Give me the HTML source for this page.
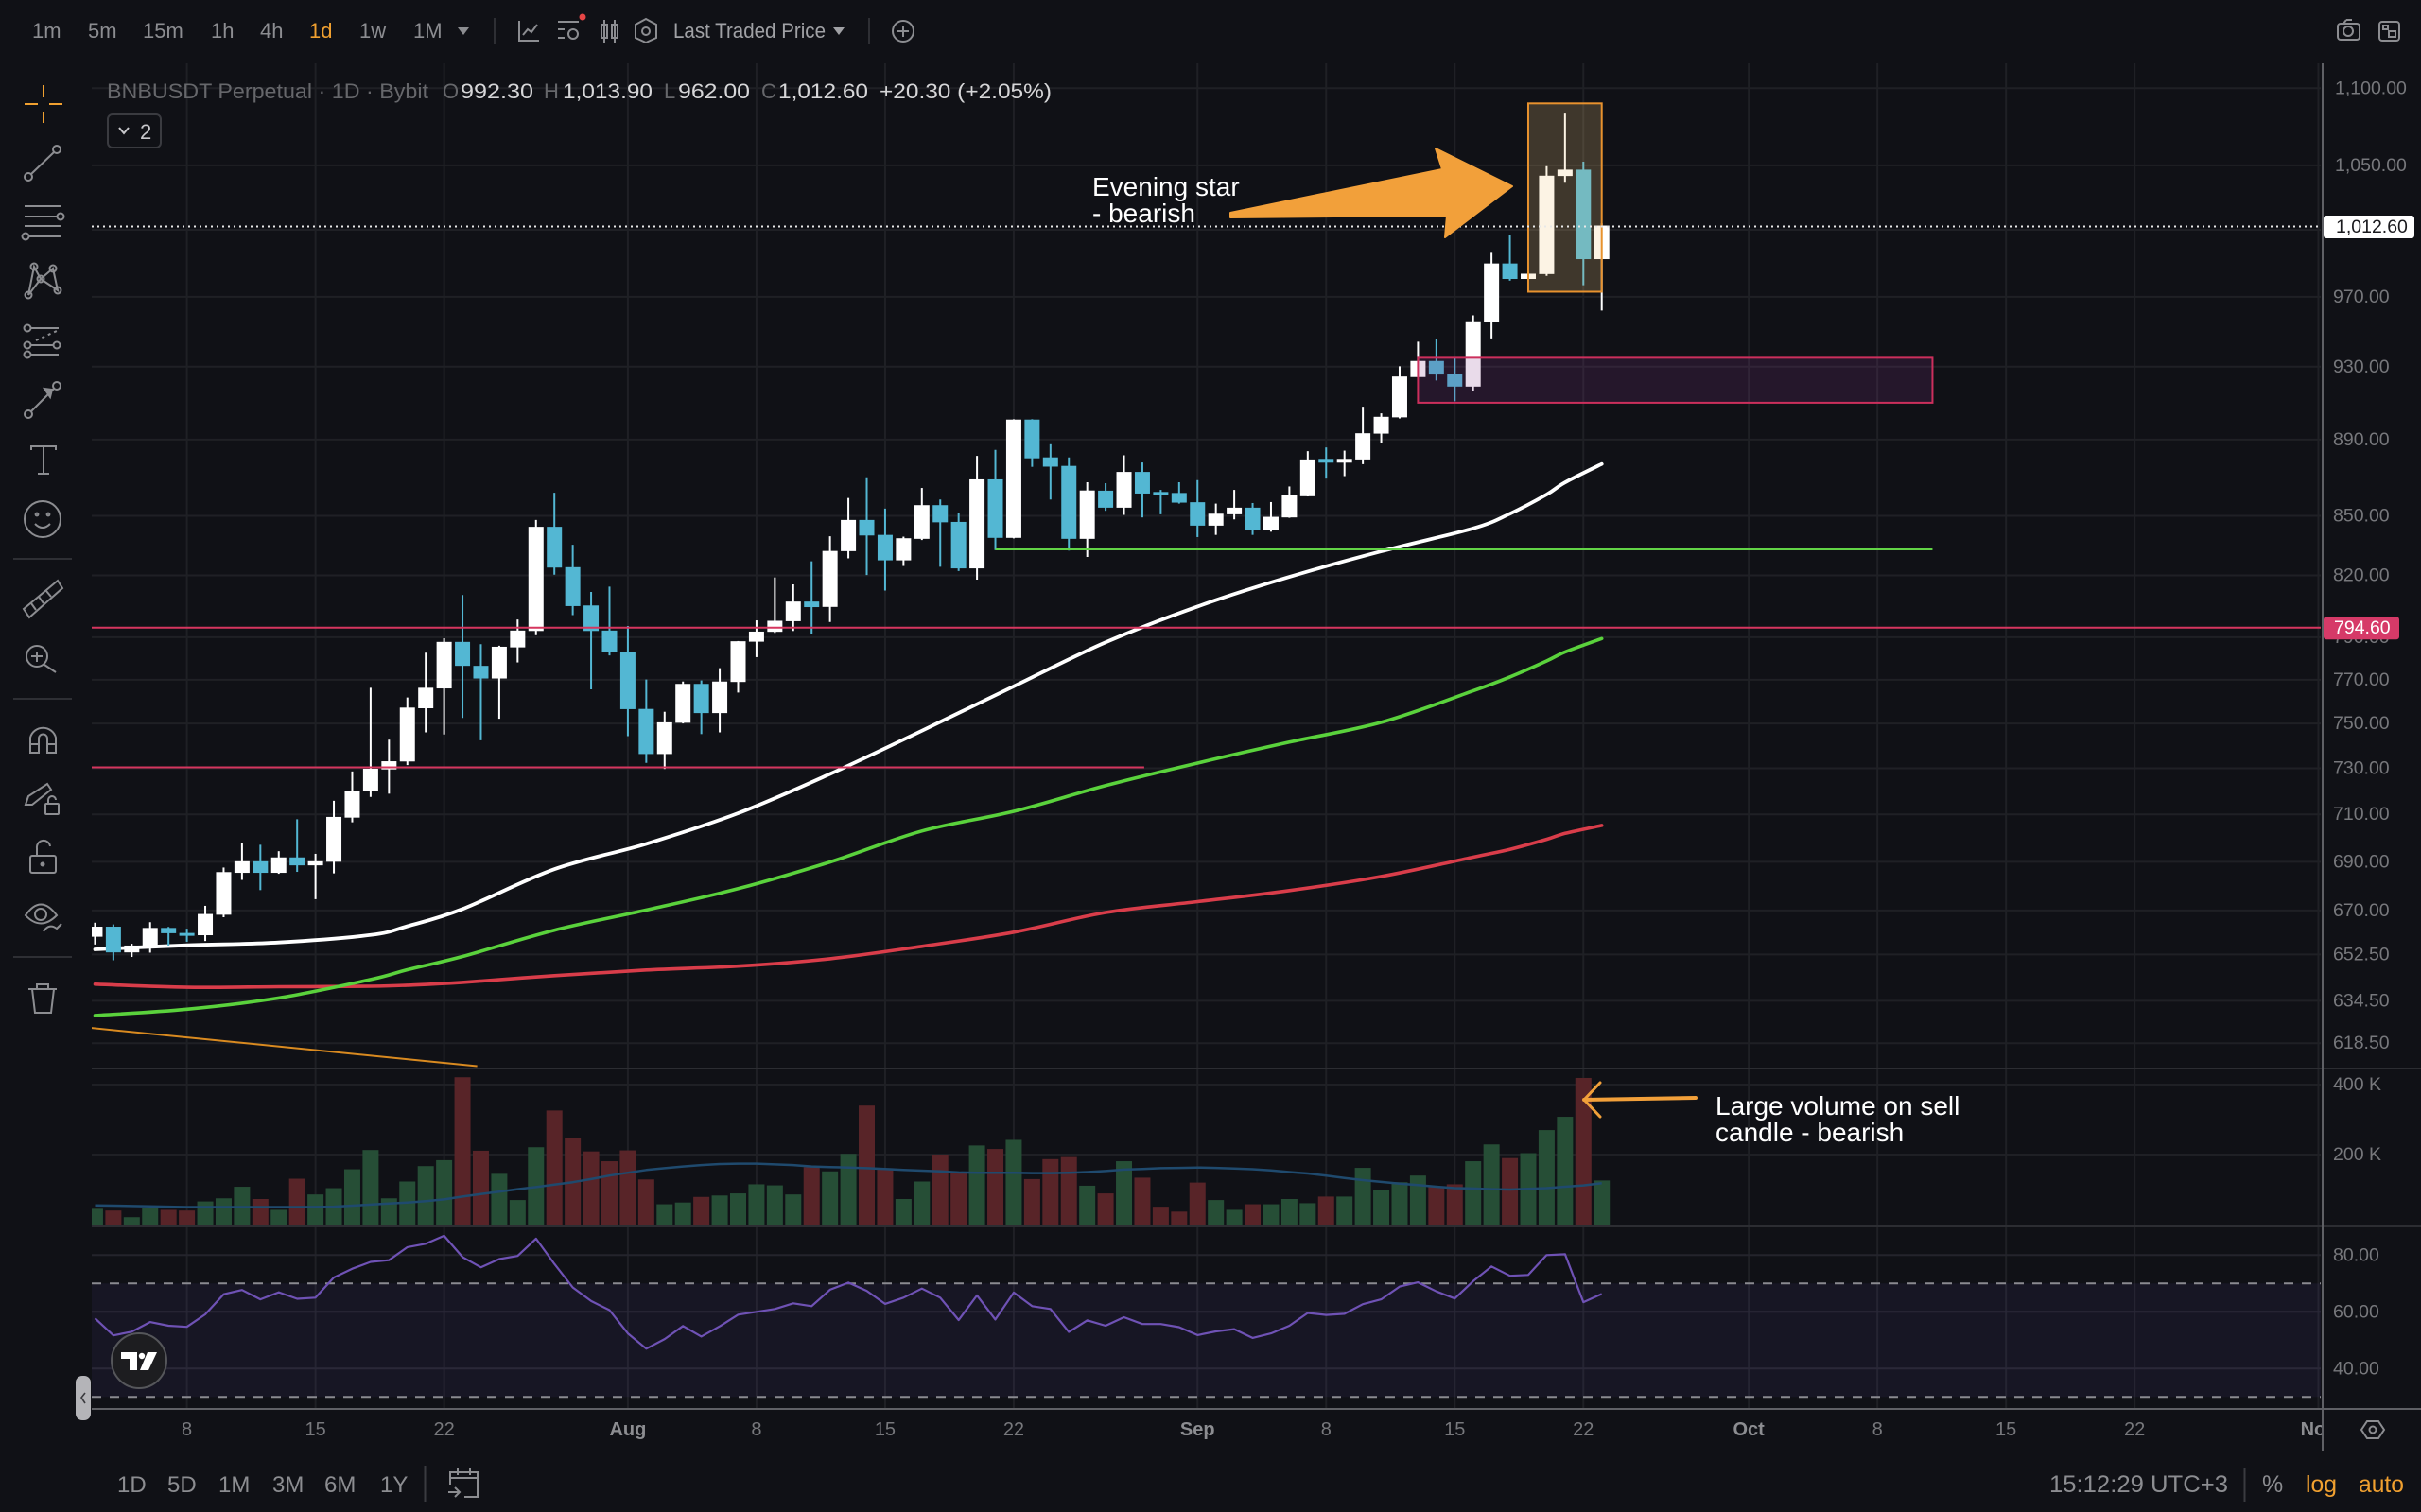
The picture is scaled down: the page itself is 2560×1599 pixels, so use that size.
<!DOCTYPE html>
<html lang="en">
<head>
<meta charset="utf-8">
<title>BNBUSDT Perpetual 1D chart</title>
<style>
html,body{margin:0;padding:0;background:#101116;width:2560px;height:1599px;overflow:hidden}
svg{display:block}
text{font-family:"Liberation Sans",sans-serif}
.tb{font-size:22px;fill:#8c8d91}
.ic{fill:none;stroke:#8c8d91;stroke-width:2}
.ax{font-size:19.5px;fill:#77787c}
.hdl{font-size:22px;fill:#66676b}
.hdv{font-size:22px;fill:#d6d6d8}
.note{font-size:28px;fill:#ffffff}
</style>
</head>
<body>
<svg id="root" xmlns="http://www.w3.org/2000/svg" width="2560" height="1599" viewBox="0 0 2560 1599">
  <defs>
    <clipPath id="clipMain"><rect x="97" y="66" width="2357" height="1063"/></clipPath>
    <clipPath id="clipVol"><rect x="97" y="1131" width="2357" height="165"/></clipPath>
    <clipPath id="clipRsi"><rect x="97" y="1298" width="2357" height="191"/></clipPath>
    <clipPath id="clipTime"><rect x="97" y="1492" width="2359" height="44"/></clipPath>
  </defs>
  <rect x="0" y="0" width="2560" height="1599" fill="#101116"/>

  <g id="gridLayer"></g>
  <g id="rsiLayer" clip-path="url(#clipRsi)"></g>
  <g id="volLayer" clip-path="url(#clipVol)"></g>
  <g id="mainLayer" clip-path="url(#clipMain)"></g>
  <g id="axisLayer"></g>
  <g id="timeLayer" clip-path="url(#clipTime)"></g>

  <!-- pane separators and axis line -->
  <line x1="97" y1="1130" x2="2560" y2="1130" stroke="#2c2d32" stroke-width="2"/>
  <line x1="97" y1="1297" x2="2560" y2="1297" stroke="#2c2d32" stroke-width="2"/>
  <line x1="97" y1="1490" x2="2560" y2="1490" stroke="#5f6065" stroke-width="2"/>
  <line x1="2456" y1="67" x2="2456" y2="1534" stroke="#5f6065" stroke-width="2"/>

  <!-- annotations -->
  <text class="note" x="1155" y="207">Evening star</text>
  <text class="note" x="1155" y="235">- bearish</text>
  <polygon points="1301,225 1525,179 1518,157 1599,197 1528,251 1530,228 1301,230" fill="#f2a03a" stroke="#f2a03a" stroke-width="2" stroke-linejoin="round"/>
  <text class="note" x="1814" y="1179">Large volume on sell</text>
  <text class="note" x="1814" y="1207">candle - bearish</text>
  <g fill="none" stroke="#f2a03a" stroke-linecap="round" stroke-linejoin="round">
    <line x1="1675" y1="1163" x2="1793" y2="1161" stroke-width="4"/>
    <polyline points="1692,1145 1675,1163 1692,1181" stroke-width="3"/>
  </g>

  <!-- top toolbar -->
  <g>
    <text class="tb" x="34" y="40">1m</text>
    <text class="tb" x="93" y="40">5m</text>
    <text class="tb" x="151" y="40">15m</text>
    <text class="tb" x="223" y="40">1h</text>
    <text class="tb" x="275" y="40">4h</text>
    <text class="tb" x="327" y="40" style="fill:#f0a030">1d</text>
    <text class="tb" x="380" y="40">1w</text>
    <text class="tb" x="437" y="40">1M</text>
    <polygon points="484,29 496,29 490,37" fill="#8c8d91"/>
    <line x1="523" y1="19" x2="523" y2="47" stroke="#2e2f34" stroke-width="2"/>
    <g class="ic">
      <polyline points="549,22 549,43 570,43"/><polyline points="553,37 558,31 562,34 568,26"/>
    </g>
    <g class="ic">
      <line x1="590" y1="23" x2="612" y2="23"/><line x1="590" y1="31" x2="597" y2="31"/><line x1="590" y1="40" x2="597" y2="40"/><circle cx="606" cy="36" r="5"/>
    </g>
    <circle cx="616" cy="18" r="3.5" fill="#e64545"/>
    <g class="ic">
      <rect x="636" y="26" width="6" height="14"/><rect x="647" y="26" width="6" height="14"/>
      <line x1="639" y1="21" x2="639" y2="45"/><line x1="650" y1="21" x2="650" y2="45"/>
    </g>
    <g class="ic">
      <polygon points="683,20 694,26 694,40 683,45 672,40 672,26"/><circle cx="683" cy="33" r="4"/>
    </g>
    <text class="tb" x="712" y="40" textLength="161" lengthAdjust="spacingAndGlyphs" style="fill:#a0a1a5">Last Traded Price</text>
    <polygon points="881,29 893,29 887,37" fill="#a0a1a5"/>
    <line x1="919" y1="19" x2="919" y2="47" stroke="#2e2f34" stroke-width="2"/>
    <g class="ic">
      <circle cx="955" cy="33" r="11"/><line x1="949" y1="33" x2="961" y2="33"/><line x1="955" y1="27" x2="955" y2="39"/>
    </g>
    <g class="ic">
      <rect x="2472" y="25" width="23" height="17" rx="3"/><circle cx="2483" cy="33" r="5"/><line x1="2478" y1="25" x2="2481" y2="21"/><line x1="2481" y1="21" x2="2487" y2="21"/>
    </g>
    <g class="ic">
      <rect x="2516" y="23" width="21" height="20" rx="3"/><rect x="2526" y="33" width="7" height="6"/><rect x="2520" y="27" width="5" height="4"/>
    </g>
  </g>

  <!-- legend -->
  <g>
    <text class="hdl" x="113" y="104" textLength="340" lengthAdjust="spacingAndGlyphs">BNBUSDT Perpetual · 1D · Bybit</text>
    <text class="hdl" x="468" y="104">O</text>
    <text class="hdv" x="487" y="104" textLength="77" lengthAdjust="spacingAndGlyphs">992.30</text>
    <text class="hdl" x="575" y="104">H</text>
    <text class="hdv" x="595" y="104" textLength="95" lengthAdjust="spacingAndGlyphs">1,013.90</text>
    <text class="hdl" x="702" y="104">L</text>
    <text class="hdv" x="717" y="104" textLength="76" lengthAdjust="spacingAndGlyphs">962.00</text>
    <text class="hdl" x="805" y="104">C</text>
    <text class="hdv" x="823" y="104" textLength="95" lengthAdjust="spacingAndGlyphs">1,012.60</text>
    <text class="hdv" x="930" y="104" textLength="182" lengthAdjust="spacingAndGlyphs">+20.30 (+2.05%)</text>
    <rect x="114" y="121" width="56" height="35" rx="5" fill="#101116" stroke="#3a3b40" stroke-width="2"/>
    <polyline points="126,135 131,141 136,135" fill="none" stroke="#c8c8cc" stroke-width="2"/>
    <text x="148" y="147" font-size="22" fill="#c8c8cc">2</text>
  </g>

  <!-- left toolbar -->
  <g>
    <g fill="none" stroke="#f0a030" stroke-width="2">
      <line x1="26" y1="110" x2="40" y2="110"/><line x1="52" y1="110" x2="66" y2="110"/><line x1="46" y1="90" x2="46" y2="103"/><line x1="46" y1="118" x2="46" y2="130"/>
    </g>
    <g class="ic">
      <circle cx="30" cy="187" r="4"/><circle cx="60" cy="158" r="4"/><line x1="33" y1="184" x2="57" y2="161"/>
    </g>
    <g class="ic">
      <line x1="26" y1="218" x2="64" y2="218"/><line x1="26" y1="229" x2="60" y2="229"/><circle cx="64" cy="229" r="3.5"/><line x1="26" y1="239" x2="64" y2="239"/><circle cx="27" cy="250" r="3.5"/><line x1="31" y1="250" x2="64" y2="250"/>
    </g>
    <g class="ic">
      <circle cx="36" cy="282" r="3.5"/><circle cx="56" cy="284" r="3.5"/><circle cx="43" cy="295" r="3.5"/><circle cx="30" cy="312" r="3.5"/><circle cx="61" cy="307" r="3.5"/>
      <polyline points="30,312 36,282 43,295 56,284 61,307 43,295 30,312"/>
    </g>
    <g class="ic">
      <circle cx="29" cy="347" r="3.5"/><line x1="33" y1="347" x2="62" y2="347"/><circle cx="29" cy="365" r="3.5"/><line x1="33" y1="365" x2="56" y2="365"/><circle cx="60" cy="365" r="3.5"/><circle cx="29" cy="375" r="3.5"/><line x1="33" y1="375" x2="62" y2="375"/><line x1="38" y1="360" x2="60" y2="350" stroke-dasharray="3,4"/>
    </g>
    <g class="ic">
      <circle cx="30" cy="438" r="4"/><circle cx="60" cy="408" r="4"/><line x1="33" y1="435" x2="57" y2="411"/>
      <polygon points="55,412 47,411 53,420" fill="#8c8d91"/>
    </g>
    <g class="ic">
      <path d="M33 476 V472 H59 V476"/><line x1="46" y1="472" x2="46" y2="501"/><line x1="40" y1="501" x2="52" y2="501"/>
    </g>
    <g class="ic">
      <circle cx="45" cy="549" r="19"/><circle cx="39" cy="544" r="1.4"/><circle cx="51" cy="544" r="1.4"/><path d="M37 554 Q45 562 53 554"/>
    </g>
    <line x1="14" y1="591" x2="76" y2="591" stroke="#2e2f34" stroke-width="2"/>
    <g class="ic">
      <polygon points="25,644 61,614 66,622 31,653"/><line x1="33" y1="638" x2="38" y2="645"/><line x1="41" y1="631" x2="46" y2="638"/><line x1="49" y1="625" x2="54" y2="631"/>
    </g>
    <g class="ic">
      <circle cx="39" cy="694" r="11"/><line x1="47" y1="703" x2="59" y2="711"/><line x1="33" y1="694" x2="45" y2="694"/><line x1="39" y1="689" x2="39" y2="700"/>
    </g>
    <line x1="14" y1="739" x2="76" y2="739" stroke="#2e2f34" stroke-width="2"/>
    <g class="ic">
      <path d="M32 796 V780 A14 14 0 0 1 59 780 V796 H50 V781 A4.5 4.5 0 0 0 41 781 V796 Z"/><line x1="32" y1="787" x2="41" y2="787"/><line x1="50" y1="787" x2="59" y2="787"/>
    </g>
    <g class="ic">
      <polygon points="27,851 30,842 50,829 54,835 34,851"/><rect x="48" y="850" width="14" height="11" rx="1"/><path d="M51 850 V846 A4 4 0 0 1 59 846"/>
    </g>
    <g class="ic">
      <rect x="32" y="905" width="27" height="18" rx="2"/><path d="M39 905 V897 A7 7 0 0 1 53 895"/><circle cx="45" cy="914" r="1.5" fill="#8c8d91"/>
    </g>
    <g class="ic">
      <path d="M27 968 Q43 945 60 968 Q43 985 27 968 Z"/><circle cx="43" cy="967" r="6"/><path d="M46 985 Q52 976 60 982 L65 977"/>
    </g>
    <line x1="14" y1="1012" x2="76" y2="1012" stroke="#2e2f34" stroke-width="2"/>
    <g class="ic">
      <line x1="30" y1="1046" x2="60" y2="1046"/><path d="M34 1046 L37 1071 H54 L57 1046"/><path d="M39 1046 V1041 H51 V1046"/>
    </g>
  </g>

  <!-- toolbar collapse handle -->
  <rect x="80" y="1455" width="16" height="47" rx="7" fill="#b4b4b8"/>
  <polyline points="90,1473 86,1478 90,1484" fill="none" stroke="#3a3a3e" stroke-width="1.6"/>

  <!-- logo -->
  <g>
    <circle cx="147" cy="1439" r="29" fill="#1d1d20" stroke="#55565a" stroke-width="2"/>
    <path d="M128 1430 H145 V1449 H137 V1437 H128 Z" fill="#ffffff"/>
    <circle cx="150" cy="1434" r="3.2" fill="#ffffff"/>
    <path d="M156 1430 H166 L157 1449 H148 Z" fill="#ffffff"/>
  </g>

  <!-- time axis settings -->
  <g class="ic">
    <polygon points="2497,1512 2503,1503 2515,1503 2521,1512 2515,1521 2503,1521"/><circle cx="2509" cy="1512" r="3.5"/>
  </g>

  <!-- bottom bar -->
  <g>
    <text class="tb" x="124" y="1578" style="font-size:24px">1D</text>
    <text class="tb" x="177" y="1578" style="font-size:24px">5D</text>
    <text class="tb" x="231" y="1578" style="font-size:24px">1M</text>
    <text class="tb" x="288" y="1578" style="font-size:24px">3M</text>
    <text class="tb" x="343" y="1578" style="font-size:24px">6M</text>
    <text class="tb" x="402" y="1578" style="font-size:24px">1Y</text>
    <line x1="449.5" y1="1550" x2="449.5" y2="1588" stroke="#3a3b40" stroke-width="2"/>
    <g class="ic">
      <path d="M476 1570 V1557 H505 V1583 H491"/><line x1="476" y1="1563" x2="505" y2="1563"/><line x1="484" y1="1552" x2="484" y2="1560"/><line x1="497" y1="1552" x2="497" y2="1560"/><path d="M474 1578 H486 M481 1573 L486 1578 L481 1583"/>
    </g>
    <text class="tb" x="2167" y="1578" textLength="189" lengthAdjust="spacingAndGlyphs" style="font-size:25px">15:12:29 UTC+3</text>
    <line x1="2373.5" y1="1552" x2="2373.5" y2="1588" stroke="#3a3b40" stroke-width="2"/>
    <text class="tb" x="2392" y="1578" style="font-size:25px">%</text>
    <text class="tb" x="2438" y="1578" textLength="33" lengthAdjust="spacingAndGlyphs" style="font-size:25px;fill:#f0a030">log</text>
    <text class="tb" x="2494" y="1578" textLength="48" lengthAdjust="spacingAndGlyphs" style="font-size:25px;fill:#f0a030">auto</text>
  </g>
</svg>

<script>
// ---- data (one entry per daily candle, first = 3 Jul) ----
const opens=[659.5,663.5,653.3,655.1,663.0,661.0,660.1,668.3,685.4,690.2,685.4,691.8,688.5,690.0,708.6,720.0,729.5,733.0,756.9,766.0,787.8,776.5,770.6,785.2,793.0,844.4,824.1,805.3,793.2,783.0,756.6,736.3,750.3,768.1,754.7,769.0,787.9,792.6,797.7,807.2,804.6,832.1,847.9,840.3,827.5,838.3,855.5,846.9,823.5,868.9,838.8,900.8,880.5,876.0,838.3,863.0,854.2,872.8,862.3,861.8,857.0,845.0,850.8,854.2,842.9,849.2,860.1,879.7,877.7,879.4,893.2,902.0,924.2,933.2,926.0,918.9,955.6,989.7,980.5,983.4,1043.3,1047.3,992.3];
const highs=[665.1,664.4,656.7,665.3,663.4,662.7,671.9,687.6,697.8,697.1,694.4,707.9,693.3,715.8,728.6,766.3,742.7,761.8,782.7,789.5,810.4,786.7,786.0,798.5,847.9,861.9,835.3,811.9,814.5,795.4,770.1,755.3,769.2,769.7,775.4,788.2,798.1,819.0,815.6,827.0,839.6,859.2,870.0,853.7,839.4,864.4,858.4,851.6,881.3,884.5,901.0,901.0,887.5,880.5,867.4,866.9,881.6,877.8,863.4,867.4,868.5,856.3,863.4,856.6,857.1,865.2,883.8,885.8,884.1,907.8,904.2,930.2,944.1,945.7,935.2,959.2,996.1,1007.1,983.8,1049.5,1083.3,1052.3,1013.9];
const lows=[656.4,650.2,651.5,653.2,656.0,657.5,657.8,667.3,682.5,678.3,685.0,685.8,674.6,685.2,706.6,717.5,718.9,731.4,746.0,745.0,752.5,742.4,752.1,778.1,791.0,820.4,800.6,765.6,781.4,744.3,732.4,729.7,750.0,745.2,746.0,764.1,780.6,792.1,793.0,791.8,797.3,828.5,820.2,812.6,824.7,837.7,824.3,822.2,817.9,832.6,838.5,875.5,858.4,832.4,829.2,852.6,850.5,849.2,850.8,856.3,839.2,840.3,848.2,840.3,841.9,849.0,860.0,869.3,870.6,876.9,888.2,901.4,924.0,922.3,910.8,916.4,946.0,979.5,980.3,982.3,1039.1,976.8,962.0];
const closes=[663.5,653.3,656.0,663.0,660.9,660.1,668.6,685.7,690.2,685.4,691.8,688.5,690.2,708.9,720.2,729.8,733.1,757.2,766.3,787.8,776.5,770.6,785.5,793.2,844.4,823.9,805.0,793.0,783.0,756.5,736.3,750.5,768.1,754.7,769.2,788.1,792.7,797.9,807.2,804.5,832.2,847.9,840.0,827.5,838.6,855.5,846.7,823.5,868.9,838.8,900.8,880.0,875.6,838.3,863.1,854.2,872.8,861.5,861.5,856.8,845.0,851.1,854.2,842.9,849.5,860.5,879.4,877.7,879.7,893.4,902.3,924.5,933.2,925.6,918.9,955.8,989.7,980.5,983.6,1043.5,1047.3,992.3,1012.6];
const volumes=[45,40,21,47,42,40,66,75,108,73,42,131,86,104,158,213,75,123,167,184,421,211,145,70,221,326,248,209,181,212,129,58,63,79,83,89,115,112,86,164,152,202,340,161,73,123,200,148,226,216,242,130,187,193,111,89,181,134,51,37,120,70,42,58,58,73,61,80,80,162,99,121,140,107,115,181,229,190,204,270,308,419,126];
const volumeAverage=[55,54,53,52,51,50,50,50,50,50,50,50,50.4,51,54,57,60,63,67,72,80,87,94,101,107,114,121,130,140,148,156,161,166,170,173,174,174,172,170,166,164,163,161,159,156,154,152,149,148,148,148,147,147,148,150,153,157,159,161,162,163,162,160,158,155,150,146,140,133,127,122,117,113,108,104,103,101,100,102,104,108,112,118];
const rsiValues=[57.7,51.7,53,56.4,55.1,54.7,59.1,66.2,67.7,64.4,66.9,64.6,65,72.1,75.2,77.6,78.2,82.8,84,86.8,79.3,75.7,78.6,79.7,85.8,76.9,68.6,63.8,60.6,52.4,47,50.4,55,51.3,54.9,59,60,61,63,62,67.8,70.3,67.4,62.8,65,68.2,65,57.1,65.8,57.3,66.8,62,61,52.9,57,55.1,58.1,55.7,55.7,54.6,51.8,53.1,53.9,50.8,52.4,55.1,59.6,58.9,59.3,62.7,64.4,68.9,70.4,67.2,64.7,70.8,76,72.7,73,80,80.3,63.4,66.3];

// moving averages, sampled on these candle numbers
const maSamples=[0,5,10,15,17,20,25,30,35,40,45,50,55,60,65,70,75,77,79,80,82];
const maWhite=[654.5,656.1,657.2,660.2,663.7,670.6,686.9,697.5,710.5,727.5,746.7,767,787.6,804.8,819.3,832,843.6,851.1,861,867.3,877];
const maGreen=[628.9,631.3,635.6,642.7,646.5,651.7,662.1,670.2,678.9,689.9,702.9,711.3,722.4,732.3,741.6,750.5,764.9,771.3,778.8,783,789.4];
const maRed=[640.9,639.7,639.9,640.1,640.5,641.6,644.2,646.4,647.9,650.8,655.7,661.3,669.2,673.6,678.1,683.9,691.9,695.2,699.4,701.9,705.3];

// axis ticks
const priceTicks=[1100,1050,1010,970,930,890,850,820,790,770,750,730,710,690,670,652.5,634.5,618.5];
const priceTickLabels=['1,100.00','1,050.00','1,010.00','970.00','930.00','890.00','850.00','820.00','790.00','770.00','750.00','730.00','710.00','690.00','670.00','652.50','634.50','618.50'];
const volumeTicks=[400,200];
const volumeTickLabels=['400 K','200 K'];
const rsiTicks=[80,60,40];
const rsiTickLabels=['80.00','60.00','40.00'];
const rsiBand=[70,30];
const timeTickDays=[5,12,19,29,36,43,50,60,67,74,81,90,97,104,111,121];
const timeTickLabels=['8','15','22','Aug','8','15','22','Sep','8','15','22','Oct','8','15','22','Nov'];

// drawings: start candle, end candle, price(s)
const levelResistance=[-2,130,794.6];
const levelSupport=[-2,57.1,730.4];
const levelBreakout=[49,100,833];
const trendLine=[-0.2,20.8,624.2,610];
const eveningStarBox=[78,82,1090,973];
const demandBox=[72,100,935,910];
const lastPrice=1012.6;
const lastPriceText='1,012.60';
const levelTagText='794.60';

// ---- scales ----
function xScale(i){return 100.45+19.43*i;}
function yPrice(p){return 93.3+1754*Math.log(1100/p);}
function yVolume(v){return 1295-0.37*v;}
function yRsi(v){return 1387.3-3*(v-60);}

const NS='http://www.w3.org/2000/svg';
function mk(tag,parent,props){
  const el=document.createElementNS(NS,tag);
  for(const k in props){el.setAttribute(k,props[k]);}
  parent.appendChild(el);
  return el;
}
const gridLayer=document.getElementById('gridLayer');
const mainLayer=document.getElementById('mainLayer');
const volLayer=document.getElementById('volLayer');
const rsiLayer=document.getElementById('rsiLayer');
const axisLayer=document.getElementById('axisLayer');
const timeLayer=document.getElementById('timeLayer');
const gridColor='#1f2025';

// grid
timeTickDays.forEach(function(d){
  const el=mk('line',gridLayer,{x1:xScale(d),x2:xScale(d),y1:67,y2:1490,stroke:gridColor,'stroke-width':2});
  
  
});
priceTicks.forEach(function(p){
  const el=mk('line',gridLayer,{x1:97,x2:2454,y1:yPrice(p),y2:yPrice(p),stroke:gridColor,'stroke-width':2});
  
  
});
volumeTicks.forEach(function(v){
  const el=mk('line',gridLayer,{x1:97,x2:2454,y1:yVolume(v),y2:yVolume(v),stroke:gridColor,'stroke-width':2});
  
  
});
rsiTicks.forEach(function(v){
  const el=mk('line',gridLayer,{x1:97,x2:2454,y1:yRsi(v),y2:yRsi(v),stroke:'#24242c','stroke-width':2});
  
  
});

// line helpers
function linePoints(idx,vals,yf){
  return idx.map(function(i,k){return xScale(i).toFixed(1)+','+yf(vals[k]).toFixed(1);}).join(' ');
}
function smoothPath(idx,vals,yf){
  const pts=idx.map(function(i,k){return [xScale(i),yf(vals[k])];});
  let d='M'+pts[0][0].toFixed(1)+' '+pts[0][1].toFixed(1);
  for(let k=0;k<pts.length-1;k++){
    const a=pts[Math.max(k-1,0)],b=pts[k],c=pts[k+1],e=pts[Math.min(k+2,pts.length-1)];
    const c1x=b[0]+(c[0]-a[0])/6,c1y=b[1]+(c[1]-a[1])/6;
    const c2x=c[0]-(e[0]-b[0])/6,c2y=c[1]-(e[1]-b[1])/6;
    d+=' C'+c1x.toFixed(1)+' '+c1y.toFixed(1)+' '+c2x.toFixed(1)+' '+c2y.toFixed(1)+' '+c[0].toFixed(1)+' '+c[1].toFixed(1);
  }
  return d;
}

// moving averages (below candles)
const maR=mk('path',mainLayer,{d:smoothPath(maSamples,maRed,yPrice),fill:'none',stroke:'#d93d4a','stroke-width':3.6,'stroke-linecap':'round','stroke-linejoin':'round'});


const maG=mk('path',mainLayer,{d:smoothPath(maSamples,maGreen,yPrice),fill:'none',stroke:'#5ad23c','stroke-width':3.6,'stroke-linecap':'round','stroke-linejoin':'round'});


const maW=mk('path',mainLayer,{d:smoothPath(maSamples,maWhite,yPrice),fill:'none',stroke:'#ffffff','stroke-width':3.8,'stroke-linecap':'round','stroke-linejoin':'round'});



// candles
opens.forEach(function(o,i){
  const c=closes[i];
  const col=c>=o?'#ffffff':'#53b7d3';
  const x=xScale(i);
  const top=yPrice(Math.max(o,c));
  const bot=yPrice(Math.min(o,c));
  const wick=mk('line',mainLayer,{x1:x,x2:x,y1:yPrice(highs[i]),y2:yPrice(lows[i]),stroke:col,'stroke-width':2});
  
  
  const body=mk('rect',mainLayer,{x:x-8,y:top,width:16,height:Math.max(bot-top,3),fill:col});
  
  
});

// drawings above candles
const resLine=mk('line',mainLayer,{x1:xScale(levelResistance[0]),x2:xScale(levelResistance[1]),y1:yPrice(levelResistance[2]),y2:yPrice(levelResistance[2]),stroke:'#d6365f','stroke-width':2});


const supLine=mk('line',mainLayer,{x1:xScale(levelSupport[0]),x2:xScale(levelSupport[1]),y1:yPrice(levelSupport[2]),y2:yPrice(levelSupport[2]),stroke:'#d6365f','stroke-width':2});


const brkLine=mk('line',mainLayer,{x1:xScale(levelBreakout[0]),x2:xScale(levelBreakout[1]),y1:yPrice(levelBreakout[2]),y2:yPrice(levelBreakout[2]),stroke:'#62d446','stroke-width':2});


const trend=mk('line',mainLayer,{x1:xScale(trendLine[0]),x2:xScale(trendLine[1]),y1:yPrice(trendLine[2]),y2:yPrice(trendLine[3]),stroke:'#d98a20','stroke-width':2});


const box1=mk('rect',mainLayer,{x:xScale(demandBox[0]),y:yPrice(demandBox[2]),width:xScale(demandBox[1])-xScale(demandBox[0]),height:yPrice(demandBox[3])-yPrice(demandBox[2]),fill:'rgba(135,55,140,0.18)',stroke:'#cc2f5c','stroke-width':2});


const box2=mk('rect',mainLayer,{x:xScale(eveningStarBox[0]),y:yPrice(eveningStarBox[2]),width:xScale(eveningStarBox[1])-xScale(eveningStarBox[0]),height:yPrice(eveningStarBox[3])-yPrice(eveningStarBox[2]),fill:'rgba(240,198,127,0.21)',stroke:'#e8922e','stroke-width':2});


const lastLine=mk('line',mainLayer,{x1:97,x2:2454,y1:yPrice(lastPrice)+1,y2:yPrice(lastPrice)+1,stroke:'#e8e8e8','stroke-width':2,'stroke-dasharray':'2,4'});



// volume
volumes.forEach(function(v,i){
  const x=xScale(i);
  const bar=mk('rect',volLayer,{x:x-8.5,y:yVolume(v),width:17,height:yVolume(0)-yVolume(v),fill:closes[i]>=opens[i]?'#264e36':'#582428'});
  
  
});
const volMa=mk('polyline',volLayer,{points:linePoints(volumes.map(function(_,i){return i;}),volumeAverage,yVolume),fill:'none',stroke:'#1f4a6e','stroke-width':2.5,'stroke-linejoin':'round'});



// RSI
const band=mk('rect',rsiLayer,{x:97,y:yRsi(rsiBand[0]),width:2357,height:yRsi(rsiBand[1])-yRsi(rsiBand[0]),fill:'rgba(120,100,220,0.075)'});


rsiBand.forEach(function(v){
  const el=mk('line',rsiLayer,{x1:97,x2:2454,y1:yRsi(v),y2:yRsi(v),stroke:'#8a8a90','stroke-width':2,'stroke-dasharray':'10,9'});
  
  
});
const rsiLine=mk('polyline',rsiLayer,{points:linePoints(rsiValues.map(function(_,i){return i;}),rsiValues,yRsi),fill:'none',stroke:'#6f52b5','stroke-width':2.2,'stroke-linejoin':'round'});



// axis labels
function axisLabel(x,y,txt,fill,size,anchor,weight,parent){
  const t=mk('text',parent||axisLayer,{x:x,y:y,fill:fill,'font-size':size,'text-anchor':anchor||'start','font-weight':weight||'normal','dominant-baseline':'central'});
  t.textContent=txt;
  return t;
}
priceTicks.forEach(function(p,i){
  const big=p>=1000;
  const t=axisLabel(big?2469:2467,yPrice(p),priceTickLabels[i],'#77787c',19.5);
  
  
});
volumeTicks.forEach(function(v,i){
  const t=axisLabel(2467,yVolume(v),volumeTickLabels[i],'#77787c',19.5);
  
  
});
rsiTicks.forEach(function(v,i){
  const t=axisLabel(2467,yRsi(v),rsiTickLabels[i],'#77787c',19.5);
  
  
});
timeTickDays.forEach(function(d,i){
  const isMonth=isNaN(Number(timeTickLabels[i]));
  const t=axisLabel(xScale(d),1512,timeTickLabels[i],isMonth?'#8c8d91':'#77787c',20,'middle',isMonth?'bold':'normal',timeLayer);
  
  
});

// price tags
const tag1=mk('rect',axisLayer,{x:2457,y:yPrice(lastPrice)-10.5,width:96,height:24,rx:3,fill:'#ffffff'});


const tag1t=axisLabel(2470,yPrice(lastPrice)+1.5,lastPriceText,'#1a1a1e',19.5);


const tag2=mk('rect',axisLayer,{x:2457,y:yPrice(levelResistance[2])-11.5,width:80,height:24,rx:3,fill:'#d63a68'});


const tag2t=axisLabel(2468,yPrice(levelResistance[2])+0.5,levelTagText,'#ffffff',19.5);


</script>
</body>
</html>
